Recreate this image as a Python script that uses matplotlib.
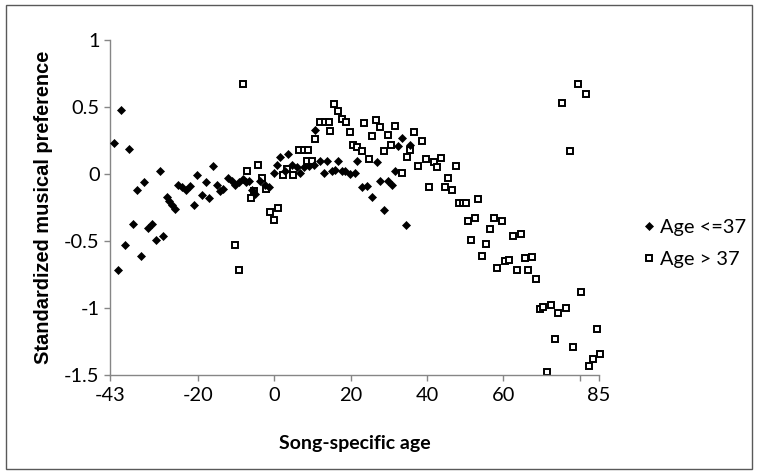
#!/usr/bin/env python3

# plot.py - musical preference by song-specific age, two age groups

import matplotlib
matplotlib.use('Agg')
import matplotlib.pyplot as plt
from matplotlib.patches import Rectangle

# Age <= 37 (filled diamonds)
young_x = [-42, -41, -40, -39, -38, -37, -36, -35, -34, -33, -32, -31, -30, -29,
           -28.2, -27.5, -26.8, -26.1, -25.2, -24.1, -23, -22, -21.1, -20.1, -19,
           -18, -17, -16, -15.1, -14.1, -13.3, -12.2, -11, -10.3, -9.3, -8.2,
           -7.4, -6.7, -5.8, -5, -3.7, -2.4, -1.5, -0.2, 0.7, 1.6, 2.9, 3.7, 4.6,
           5.9, 6.8, 7.7, 9, 10.3, 10.7, 12, 12.9, 13.8, 15.1, 16, 16.8, 17.7,
           18.6, 19.9, 21, 21.7, 22.9, 24.2, 25.7, 26.8, 27.7, 28.7, 29.7, 30.7,
           31.7, 32.5, 33.5, 34.5, 35.6]
young_y = [0.23, -0.72, 0.48, -0.53, 0.19, -0.37, -0.12, -0.61, -0.06, -0.40,
           -0.37, -0.49, 0.02, -0.46, -0.17, -0.20, -0.23, -0.26, -0.08, -0.10,
           -0.12, -0.09, -0.23, -0.01, -0.16, -0.06, -0.18, 0.06, -0.08, -0.13,
           -0.11, -0.03, -0.05, -0.08, -0.06, -0.04, -0.06, -0.05, -0.12, -0.15,
           -0.05, -0.08, -0.10, 0.01, 0.07, 0.13, 0.02, 0.15, 0.07, 0.05, 0.01,
           0.05, 0.06, 0.07, 0.33, 0.10, 0.01, 0.10, 0.02, 0.03, 0.10, 0.02,
           0.02, 0.00, 0.01, 0.10, -0.10, -0.09, -0.17, 0.09, -0.05, -0.27,
           -0.05, -0.08, 0.02, 0.21, 0.27, -0.38, 0.22]

# Age > 37 (open squares)
old_x = [-10.2, -9.2, -8.2, -7.1, -6.1, -5.2, -4.2, -3.2, -2.1, -1.2, -0.2, 0.9,
         2.3, 3.3, 5, 6.4, 7.7, 8.8, 8.5, 9.9, 10.7, 11.9, 13.2, 14.3, 14.6,
         15.7, 16.7, 17.8, 18.7, 19.7, 20.6, 21.6, 22.9, 23.6, 24.7, 25.7, 26.7,
         27.7, 28.6, 29.7, 30.6, 31.6, 33.5, 34.7, 35.6, 36.6, 37.6, 38.6, 39.7,
         40.5, 41.7, 42.7, 43.7, 44.7, 45.6, 46.6, 47.6, 48.4, 49.3, 50.3, 50.6,
         51.5, 52.6, 53.4, 54.5, 55.4, 56.5, 57.5, 58.4, 59.5, 60.4, 61.4, 62.4,
         63.5, 64.5, 65.5, 66.5, 67.5, 68.4, 69.5, 70.4, 71.5, 72.4, 73.4, 74.3,
         75.4, 76.4, 77.4, 78.3, 79.4, 80.3, 81.5, 82.4, 83.5, 84.4, 85.2]
old_y = [-0.53, -0.72, 0.67, 0.02, -0.18, -0.13, 0.07, -0.03, -0.11, -0.28,
         -0.34, -0.25, -0.01, 0.04, -0.01, 0.18, 0.18, 0.18, 0.10, 0.10, 0.26,
         0.39, 0.39, 0.39, 0.32, 0.52, 0.47, 0.41, 0.39, 0.31, 0.22, 0.20, 0.17,
         0.38, 0.11, 0.28, 0.40, 0.35, 0.17, 0.29, 0.22, 0.36, 0.01, 0.13, 0.18,
         0.31, 0.06, 0.25, 0.11, -0.10, 0.09, 0.05, 0.12, -0.10, -0.03, -0.12,
         0.06, -0.22, -0.22, -0.22, -0.35, -0.49, -0.33, -0.19, -0.61, -0.52,
         -0.41, -0.33, -0.70, -0.35, -0.65, -0.645, -0.46, -0.72, -0.45, -0.63,
         -0.72, -0.62, -0.78, -1.01, -0.99, -1.48, -0.98, -1.23, -1.035, 0.53,
         -1.0, 0.17, -1.29, 0.67, -0.88, 0.60, -1.43, -1.38, -1.16, -1.345]

x_ticks = [-43, -20, 0, 20, 40, 60, 80, 85]
x_tick_labels = ['-43', '-20', '0', '20', '40', '60', '', '85']
y_ticks = [-1.5, -1, -0.5, 0, 0.5, 1]
y_tick_labels = ['-1.5', '-1', '-0.5', '0', '0.5', '1']

AXIS_GREY = '#868686'


def main():
    plt.rcParams['font.family'] = ['Lato', 'DejaVu Sans']

    fig = plt.figure(figsize=(7.58, 4.72), dpi=100)
    ax = fig.add_axes([110 / 758, 1 - 375 / 472, 489 / 758, 335 / 472])

    # outer chart border
    fig.patches.append(Rectangle((6 / 758, 3 / 472), 746 / 758, 464 / 472,
                                 transform=fig.transFigure, fill=False,
                                 edgecolor='#595959', linewidth=1.0))

    ax.plot(young_x, young_y, linestyle='none', marker='D', markersize=4.3,
            markerfacecolor='black', markeredgecolor='black', markeredgewidth=0.5,
            label='Age <=37', zorder=3, clip_on=False)
    ax.plot(old_x, old_y, linestyle='none', marker='s', markersize=4.4,
            markerfacecolor='white', markeredgecolor='black', markeredgewidth=1.4,
            label='Age > 37', zorder=2, clip_on=False)

    ax.set_xlim(-43, 85)
    ax.set_ylim(-1.5, 1)
    ax.set_xticks(x_ticks)
    ax.set_xticklabels(x_tick_labels)
    ax.set_yticks(y_ticks)
    ax.set_yticklabels(y_tick_labels)

    for side in ['top', 'right']:
        ax.spines[side].set_visible(False)
    for side in ['left', 'bottom']:
        ax.spines[side].set_color(AXIS_GREY)
        ax.spines[side].set_linewidth(1.0)
    ax.tick_params(axis='both', direction='out', length=4.5, width=1.0,
                   color=AXIS_GREY, labelsize=14.4, labelcolor='black')
    ax.tick_params(axis='y', pad=3)
    ax.tick_params(axis='x', pad=4)

    ax.set_xlabel('Song-specific age', fontsize=14, fontweight='bold')
    ax.xaxis.set_label_coords(0.5, -0.18)
    ax.set_ylabel('Standardized musical preference', fontsize=14.4,
                  fontweight='bold', family='Liberation Sans')
    ax.yaxis.set_label_coords(-0.117, 0.5)

    ax.legend(loc='center left', bbox_to_anchor=(643 / 758, 1 - 243.5 / 472),
              bbox_transform=fig.transFigure, frameon=False, fontsize=14.4,
              borderpad=0, borderaxespad=0, handlelength=0.6,
              handletextpad=0.25, labelspacing=0.75)

    fig.savefig('out.png', dpi=100)


if __name__ == '__main__':
    main()
